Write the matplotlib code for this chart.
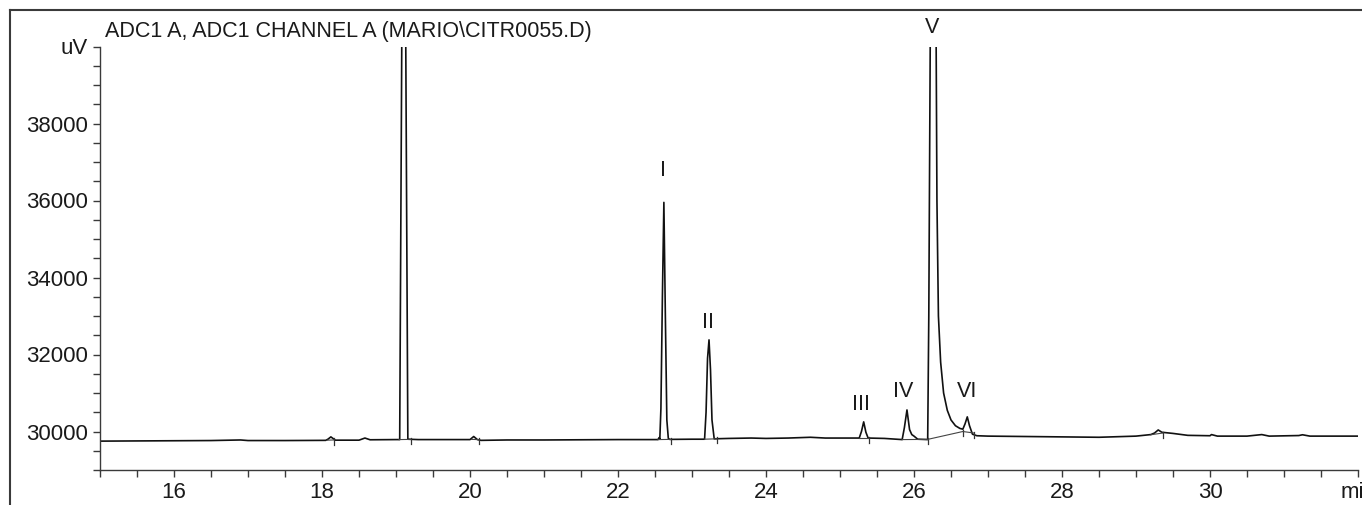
import matplotlib

matplotlib.use("Agg")
import matplotlib.pyplot as plt
from matplotlib.lines import Line2D

plt.rcParams["font.family"] = ["Liberation Sans", "DejaVu Sans"]

INK = "#1a1a1a"
FRAME = "#3a3a3a"

# ── trace (time in min, signal in uV) ────────────────────────────────────────
trace_t = [
    15.0, 15.5, 16.0, 16.5, 16.9, 17.0, 17.5, 18.05, 18.08, 18.12, 18.18,
    18.5, 18.58, 18.65, 19.0, 19.05, 19.105, 19.16, 19.3, 19.6, 20.0, 20.05,
    20.1, 20.15, 20.5, 21.0, 21.5, 22.0, 22.54, 22.555, 22.565, 22.58, 22.60,
    22.62, 22.64, 22.66, 22.68, 22.70, 23.0, 23.17, 23.19, 23.21, 23.23,
    23.25, 23.27, 23.30, 23.5, 23.8, 24.0, 24.3, 24.6, 24.8, 25.0, 25.26,
    25.29, 25.32, 25.35, 25.38, 25.6, 25.84, 25.87, 25.905, 25.94, 25.97,
    26.0, 26.05, 26.185, 26.20, 26.26, 26.31, 26.33, 26.36, 26.40, 26.45,
    26.50, 26.56, 26.62, 26.66, 26.69, 26.72, 26.75, 26.79, 26.85, 27.0,
    27.5, 28.0, 28.5, 29.0, 29.2, 29.25, 29.3, 29.35, 29.5, 29.7, 30.0,
    30.02, 30.1, 30.5, 30.7, 30.8, 31.2, 31.25, 31.35, 31.6, 32.0,
]
trace_uv = [
    29750, 29755, 29760, 29765, 29780, 29765, 29765, 29770, 29800, 29860,
    29775, 29775, 29830, 29785, 29790, 29790, 50000, 29800, 29790, 29790,
    29790, 29870, 29790, 29770, 29780, 29780, 29785, 29790, 29790, 29840,
    29800, 30600, 33500, 35950, 33000, 30300, 29820, 29795, 29800, 29800,
    30500, 31900, 32380, 31600, 30300, 29810, 29820, 29830, 29820, 29830,
    29850, 29830, 29830, 29830, 30000, 30250, 29980, 29830, 29820, 29790,
    30100, 30560, 30050, 29920, 29880, 29800, 29790, 33000, 55000, 36000,
    33000, 31800, 31000, 30550, 30300, 30150, 30080, 30060, 30200, 30380,
    30150, 29930, 29890, 29880, 29870, 29860, 29850, 29880, 29920, 29960,
    30040, 29980, 29950, 29900, 29890, 29920, 29880, 29880, 29920, 29880,
    29895, 29915, 29880, 29880, 29880,
]

# integration baselines (start, end) and peak-end markers
base_t0 = [18.07, 19.04, 20.02, 22.54, 23.17, 25.26, 25.84, 26.185, 26.66, 29.2]
base_t1 = [18.16, 19.20, 20.12, 22.72, 23.34, 25.39, 26.185, 26.66, 26.81, 29.36]
base_v0 = [29775, 29790, 29795, 29790, 29800, 29830, 29790, 29795, 30000, 29915]
base_v1 = [29780, 29795, 29790, 29795, 29810, 29830, 29795, 30000, 29960, 29960]

# peak labels
peak_names = ["I", "II", "III", "IV", "V", "VI"]
peak_t = [22.61, 23.22, 25.28, 25.86, 26.24, 26.72]
peak_y = [36790, 32840, 30710, 31050, 40500, 31050]

x_major = [16, 18, 20, 22, 24, 26, 28, 30, 32]
x_labels = ["16", "18", "20", "22", "24", "26", "28", "30", "min"]
y_major = [30000, 32000, 34000, 36000, 38000, 40000]
y_labels = ["30000", "32000", "34000", "36000", "38000", "uV"]

fig = plt.figure(figsize=(13.62, 5.05), dpi=100)
ax = fig.add_axes([100 / 1362, 1 - 470 / 505, 1258 / 1362, (470 - 46.5) / 505])

ax.plot(trace_t, trace_uv, color="#111111", lw=1.2, solid_joinstyle="round")
for t0, t1, v0, v1 in zip(base_t0, base_t1, base_v0, base_v1):
    ax.plot([t0, t1], [v0, v1], color="#444444", lw=0.8)
    ax.plot([t1, t1], [v1 + 40, v1 - 120], color="#333333", lw=0.9)

for name, t, y in zip(peak_names, peak_t, peak_y):
    ax.text(t, y, name, ha="center", va="center", fontsize=15.5, color=INK,
            clip_on=False)

ax.set_xlim(15, 32)
ax.set_ylim(29000, 40000)
ax.set_xticks(x_major)
ax.set_xticklabels(x_labels)
ax.set_xticks([v / 2 for v in range(30, 65)], minor=True)
ax.set_yticks(y_major)
ax.set_yticklabels(y_labels)
ax.set_yticks(list(range(29000, 40001, 500)), minor=True)

for side in ("top", "right"):
    ax.spines[side].set_visible(False)
for side in ("left", "bottom"):
    ax.spines[side].set_color(FRAME)
    ax.spines[side].set_linewidth(1.0)
ax.tick_params(which="both", direction="out", length=5, width=1.0,
               color=FRAME, labelsize=16, labelcolor=INK, pad=4)

# outer frame (left and top edges)
fig.add_artist(Line2D([10 / 1362, 10 / 1362], [0, 1 - 10 / 505],
                      color=FRAME, lw=1.5, transform=fig.transFigure))
fig.add_artist(Line2D([10 / 1362, 1], [1 - 10 / 505, 1 - 10 / 505],
                      color=FRAME, lw=1.5, transform=fig.transFigure))

fig.text(105 / 1362, 1 - 31 / 505, "ADC1 A, ADC1 CHANNEL A (MARIO\\CITR0055.D)",
         ha="left", va="center", fontsize=15.5, color=INK)

fig.savefig("out.png", dpi=100, facecolor="white")
